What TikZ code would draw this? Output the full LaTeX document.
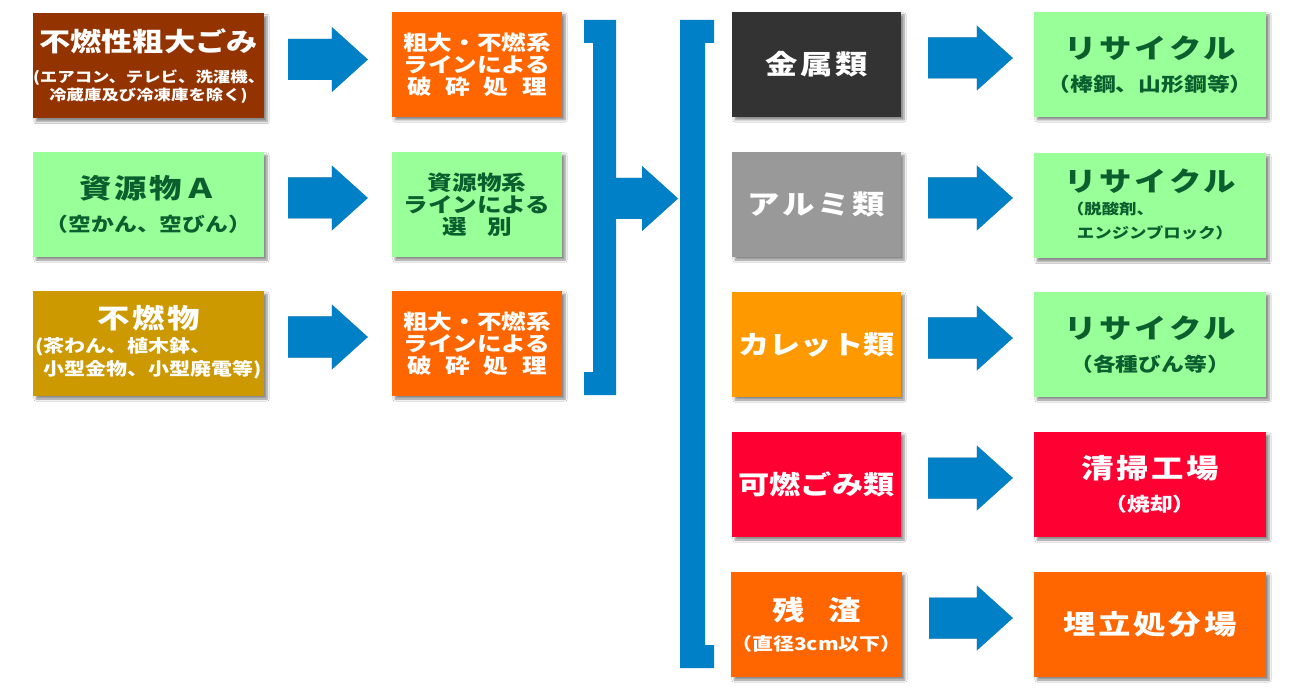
\documentclass[tikz,border=0pt]{standalone}
\usepackage{fontspec}
\setmainfont{Noto Sans CJK JP}[FakeStretch=1.2]
\usetikzlibrary{calc,shadows.blur}
\definecolor{flowblue}{HTML}{0080C6}
\definecolor{brickred}{HTML}{933300}
\definecolor{mossgold}{HTML}{CC9900}
\definecolor{lineorange}{HTML}{FF6600}
\definecolor{mintgreen}{HTML}{99FF99}
\definecolor{leafink}{HTML}{0B5E2E}
\definecolor{coalgrey}{HTML}{333333}
\definecolor{alugrey}{HTML}{999999}
\definecolor{culletor}{HTML}{FF9900}
\definecolor{burnred}{HTML}{FF0033}
\newcommand{\headtxt}{\fontsize{27}{29}\selectfont\bfseries\addfontfeatures{LetterSpace=10}}
\newcommand{\tighthead}{\fontsize{26}{28}\selectfont\bfseries}
\newcommand{\linetxt}{\fontsize{20.5}{22}\selectfont\bfseries}
\newcommand{\subtxt}{\fontsize{19}{21}\selectfont\bfseries}
\newcommand{\midtxt}{\fontsize{17.5}{20}\selectfont\bfseries}
\newcommand{\tinytxt}{\fontsize{14.5}{17}\selectfont\bfseries}
% block arrow: #1 tail point, #2 tip point
\newcommand{\flowarrow}[2]{%
  \foreach \dx/\dy/\col in {1.5/2/black!40,0/0/flowblue}
   {\fill[\col,xshift=\dx pt,yshift=\dy pt] let \p1=(#1),\p2=(#2) in
     (\x1,{\y1+20.5pt}) -- ({\x2-36pt},{\y1+20.5pt}) -- ({\x2-36pt},{\y1+32.5pt}) -- (\x2,\y1)
     -- ({\x2-36pt},{\y1-32.5pt}) -- ({\x2-36pt},{\y1-20.5pt}) -- (\x1,{\y1-20.5pt}) -- cycle;}}

\begin{document}
\begin{tikzpicture}[x=1pt,y=-1pt,
 box/.style={rectangle,inner sep=0pt,minimum height=105pt,align=center,
   blur shadow={shadow xshift=3pt,shadow yshift=-3pt,shadow blur steps=6,shadow opacity=45}},
 srcbox/.style={box,minimum width=231pt,text width=231pt},
 linebox/.style={box,minimum width=170pt,font=\linetxt},
 kindbox/.style={box,minimum width=169pt,font=\subtxt},
 endbox/.style={box,minimum width=232pt,font=\subtxt},
 whitetxt/.style={text=white},
 greentxt/.style={fill=mintgreen,text=leafink}]
\fill[white] (0,0) rectangle (1300,700);
\useasboundingbox (0,0) rectangle (1300,700);

% incoming waste
\node[srcbox,fill=brickred,whitetxt,font=\tinytxt] (src1) at (148.5,66)
  {{\tighthead 不燃性粗大ごみ}\\[14pt](エアコン、テレビ、洗濯機、\\[1pt]冷蔵庫及び冷凍庫を除く)};
\node[srcbox,greentxt,font=\subtxt] (src2) at (148.5,204.5)
  {{\headtxt 資源物Ａ}\\[12pt]（空かん、空びん）};
\node[srcbox,fill=mossgold,whitetxt,font=\midtxt] (src3) at (148.5,343.5)
  {{\headtxt 不燃物}\\[6pt]\begin{tabular}{@{}l@{}}(茶わん、植木鉢、\\[2pt]\hspace{8pt}小型金物、小型廃電等)\end{tabular}};

% processing lines
\node[linebox,fill=lineorange,whitetxt] (line1) at (477,64.5)
  {粗大・不燃系\\ラインによる\\\makebox[140pt][s]{破\hfil 砕\hfil 処\hfil 理}};
\node[linebox,greentxt] (line2) at (477,204.5)
  {資源物系\\ラインによる\\\makebox[70pt][s]{選\hfil 別}};
\node[linebox,fill=lineorange,whitetxt] (line3) at (477,343.5)
  {粗大・不燃系\\ラインによる\\\makebox[140pt][s]{破\hfil 砕\hfil 処\hfil 理}};

% sorted fractions
\node[kindbox,fill=coalgrey,whitetxt] (kind1) at (816.5,64.5) {\headtxt 金属類};
\node[kindbox,fill=alugrey,whitetxt] (kind2) at (816.5,204.5) {\headtxt アルミ類};
\node[kindbox,fill=culletor,whitetxt] (kind3) at (816.5,344.5) {\tighthead カレット類};
\node[kindbox,fill=burnred,whitetxt] (kind4) at (816.5,484.5) {\tighthead 可燃ごみ類};
\node[kindbox,fill=lineorange,whitetxt,font=\midtxt] (kind5) at (816.5,624.5)
  {{\headtxt\makebox[88pt][s]{残\hfil 渣}}\\[10pt]（直径3cm以下）};

% destinations
\node[endbox,greentxt] (end1) at (1150,64.5) {{\headtxt リサイクル}\\[12pt]（棒鋼、山形鋼等）};
\node[endbox,greentxt] (end2) at (1150,206)
  {{\headtxt リサイクル}\\[8pt]{\tinytxt\begin{tabular}{@{}l@{}}（脱酸剤、\\[6pt]\hspace{10pt}エンジンブロック）\end{tabular}}};
\node[endbox,greentxt] (end3) at (1150,344.5) {{\headtxt リサイクル}\\[12pt]（各種びん等）};
\node[endbox,fill=burnred,whitetxt] (end4) at (1150,484.5) {{\headtxt 清掃工場}\\[12pt]（焼却）};
\node[endbox,fill=lineorange,whitetxt] (end5) at (1150,624.5) {\headtxt 埋立処分場};

% brackets
\fill[flowblue] (584,20) -- (616,20) -- (616,395) -- (584,395) -- (584,372) -- (593,372) -- (593,43) -- (584,43) -- cycle;
\fill[flowblue] (714,20) -- (680,20) -- (680,668) -- (714,668) -- (714,645) -- (705,645) -- (705,43) -- (714,43) -- cycle;
\coordinate (join) at (616,198.5);
\coordinate (split) at (678,198.5);

% arrows
\foreach \i in {1,2,3}
  {\flowarrow{$(src\i.east)+(24,-6.5)$}{$(line\i.west)+(-24,-6.5)$}}
\flowarrow{join}{split}
\foreach \i in {1,...,5}
  {\flowarrow{$(kind\i.east)+(27,-6.5)$}{$(end\i.west)+(-21,-6.5)$}}
\end{tikzpicture}
\end{document}
